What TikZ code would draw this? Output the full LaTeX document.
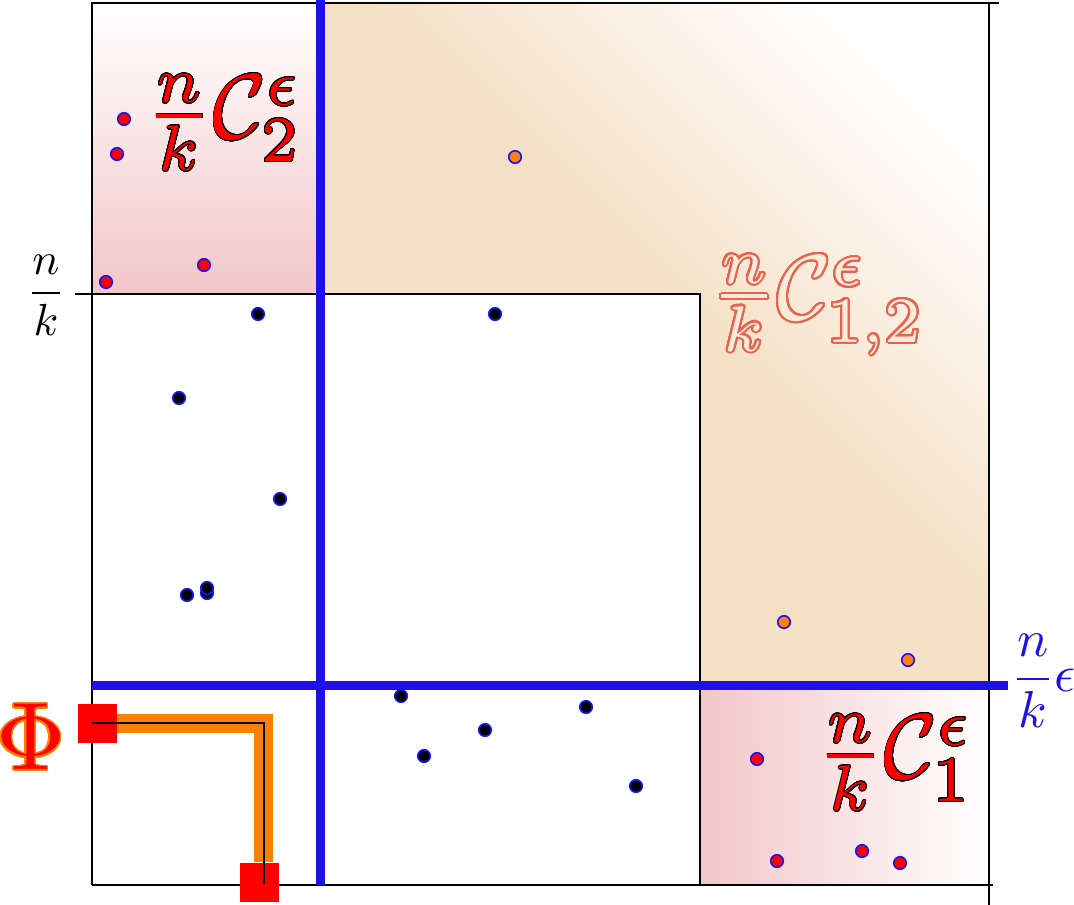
\documentclass[tikz,border=0pt]{standalone}
\usepackage{contour}
\contournumber{32}
\definecolor{tanc}{RGB}{245,224,198}
\definecolor{pinkc}{RGB}{243,198,200}
\definecolor{bluel}{RGB}{32,16,232}
\definecolor{dotblue}{RGB}{20,20,255}
\definecolor{salmonc}{RGB}{232,98,80}
\definecolor{lighttan}{RGB}{250,236,218}
\definecolor{orng}{RGB}{255,128,0}
\pgfdeclareverticalshading{tanfade}{100bp}{color(0bp)=(tanc); color(53bp)=(tanc); color(77bp)=(white); color(100bp)=(white)}
\tikzset{
  frame/.style={draw=black, line width=2pt},
  bluebar/.style={draw=bluel, line width=9pt},
  dotbase/.style={circle, inner sep=0pt, minimum size=12.5pt, draw=dotblue, line width=1.6pt},
  reddot/.style={dotbase, fill=red},
  orangedot/.style={dotbase, fill=orng},
  blackdot/.style={dotbase, fill=black},
  redsq/.style={fill=red, minimum size=39pt, inner sep=0pt},
  lbl/.style={inner sep=0pt},
}
\begin{document}
\begin{tikzpicture}[x=1pt,y=-1pt]
\useasboundingbox (0,0) rectangle (1074,905);
% shaded regions
\shade[top color=white, bottom color=pinkc] (92,3) rectangle (319,294);
\shade[shading=tanfade, shading angle=-45]
  (319,3) -- (989,3) -- (989,685) -- (700,685) -- (700,294) -- (319,294) -- cycle;
\shade[left color=pinkc, right color=white] (700,685) rectangle (989,885);
% frame
\coordinate (tl) at (92,3);
\coordinate (tr) at (999,3);
\coordinate (bl) at (92,885);
\coordinate (br) at (993,885);
\coordinate (rt) at (989,3);
\coordinate (rb) at (989,905);
\coordinate (kl) at (75,294);
\coordinate (kc) at (700,294);
\coordinate (kb) at (700,885);
\draw[frame] (bl) -- (tl) -- (tr);
\draw[frame] (rt) -- (rb);
\draw[frame] (bl) -- (br);
\draw[frame] (kl) -- (kc) -- (kb);
% blue lines
\coordinate (vt) at (320,0);
\coordinate (vb) at (320,885);
\coordinate (hl) at (92,685);
\coordinate (hr) at (1008,685);
\draw[bluebar] (vt) -- (vb);
\draw[bluebar] (hl) -- (hr);
% Phi path
\node[redsq] (sqa) at (97,723) {};
\node[redsq] (sqb) at (259,882) {};
\coordinate (oc) at (263.5,723);
\draw[orng, line width=19pt] (sqa.center) -- (oc) -- (oc |- sqb.north);
\node[redsq] (sqa2) at (sqa) {};
\node[redsq] (sqb2) at (sqb) {};
\coordinate (pa) at (92,723);
\coordinate (pc) at (264,723);
\coordinate (pb) at (264,884);
\draw[black, line width=1.8pt] (pa) -- (pc) -- (pb);
% dots
\foreach \p [count=\i] in {(124,119),(117,154),(204,265),(106,282),(757,759),(777,861),(862,851),(900,863)}
  \node[reddot] (r\i) at \p {};
\foreach \p [count=\i] in {(515,157),(784,622),(908,660)}
  \node[orangedot] (o\i) at \p {};
\foreach \p [count=\i] in {(258,314),(495,314),(179,398),(280,499),(187,595),(207,593),(207,588),(401,696),(424,756),(485,730),(586,707),(636,786)}
  \node[blackdot] (b\i) at \p {};
% labels
\node[lbl] (lc2) at (224,123) {\scalebox{9.2}{\contourlength{0.09pt}\color{red}\contour{black}{$\frac{n}{k}\mathcal{C}_2^{\epsilon}$}}};
\node[lbl] (lc12) at (818,306) {\scalebox{9.2}{\contourlength{0.22pt}\color{lighttan}\contour{salmonc}{$\frac{n}{k}\mathcal{C}_{1,2}^{\epsilon}$}}};
\node[lbl] (lc1) at (895,763) {\scalebox{9.2}{\contourlength{0.09pt}\color{red}\contour{black}{$\frac{n}{k}\mathcal{C}_1^{\epsilon}$}}};
\node[lbl, text=bluel, anchor=west] (leps) at (1011,681) {\scalebox{5.2}{$\displaystyle\frac{n}{k}\epsilon$}};
\node[lbl] (lnk) at (46,295) {\scalebox{4.5}{$\displaystyle\frac{n}{k}$}};
\node[lbl] (lphi) at (31,738) {\scalebox{9.6}{\contourlength{0.17pt}\color{red}\contour{orng}{$\Phi$}}};
\end{tikzpicture}
\end{document}
